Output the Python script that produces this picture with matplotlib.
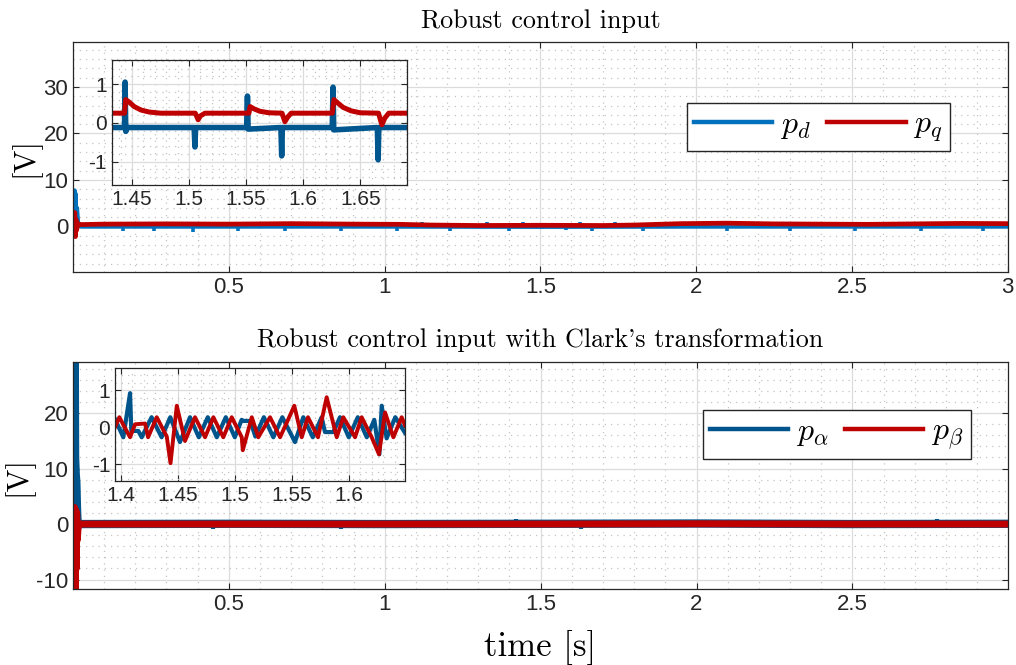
import matplotlib
matplotlib.use("Agg")
import matplotlib.pyplot as plt
from matplotlib import ticker

plt.rcParams['mathtext.fontset'] = 'cm'
plt.rcParams['axes.unicode_minus'] = False
plt.rcParams['font.family'] = ['Liberation Sans', 'DejaVu Sans']

# colores estilo MATLAB
azul_d = '#0072BD'
azul_in = '#00568F'
azul_a = '#00548C'
rojo = '#BF0000'

# ---------------- datos panel superior (p_d, p_q) ----------------
pd_t = [0.0, 0.004, 0.006, 0.008, 0.010, 0.012, 0.014, 0.018, 0.025, 0.5, 1.0, 1.5, 2.0, 2.5, 3.0]
pd_v = [0.0, 0.0, 7.8, -0.6, 7.0, -0.5, 4.0, 0.3, -0.1, -0.1, -0.1, -0.15, -0.1, -0.1, -0.1]
pd_pico_t = [0.16, 0.23, 0.26, 0.32, 0.385, 0.45, 0.53, 0.57, 0.68, 0.80, 0.86, 0.98, 1.04,
             1.12, 1.21, 1.33, 1.40, 1.444, 1.505, 1.551, 1.581, 1.626, 1.666, 1.74, 1.83,
             1.95, 2.03, 2.10, 2.20, 2.30, 2.42, 2.51, 2.60, 2.72, 2.85, 2.92]
pd_pico_v = [-1.0, 1.0, -1.0, 1.0, -1.1, 1.0, -1.0, 1.0, -1.0, 1.0, -1.0, 1.0, -1.0,
             1.0, -1.0, 1.0, -1.0, 1.05, -0.6, 0.7, -0.85, 0.9, -0.95, 1.0, -1.0,
             1.0, 1.2, -1.0, 1.0, -1.0, 1.0, -1.0, 1.0, -1.0, 1.0, -1.0]

pq_t = [0.0, 0.004, 0.006, 0.008, 0.010, 0.012, 0.016, 0.025, 0.1, 0.3, 0.5, 0.7, 0.9, 1.05,
        1.15, 1.3, 1.5, 1.7, 1.8, 1.95, 2.1, 2.25, 2.4, 2.55, 2.7, 2.85, 3.0]
pq_v = [0.0, 0.0, 3.0, -2.2, 1.5, -0.8, 0.6, 0.4, 0.5, 0.55, 0.5, 0.6, 0.5, 0.45,
        0.3, 0.2, 0.25, 0.2, 0.3, 0.6, 0.7, 0.55, 0.5, 0.45, 0.55, 0.65, 0.6]

# zoom superior
zd_t = [1.432, 1.4435, 1.4440, 1.4446, 1.4460, 1.5045, 1.5052, 1.5058, 1.5505, 1.5512, 1.5518,
        1.5805, 1.5812, 1.5818, 1.6255, 1.6262, 1.6268, 1.6650, 1.6657, 1.6663, 1.691]
zd_v = [-0.12, -0.12, 1.05, -0.22, -0.12, -0.12, -0.62, -0.12, -0.12, 0.69, -0.16,
        -0.12, -0.85, -0.12, -0.12, 0.92, -0.18, -0.12, -0.95, -0.12, -0.12]
zq_t = [1.432, 1.4435, 1.4445, 1.447, 1.452, 1.458, 1.465, 1.475, 1.5055, 1.5080, 1.5100,
        1.5140, 1.5525, 1.5535, 1.557, 1.562, 1.570, 1.5815, 1.5840, 1.5865, 1.5895, 1.6255,
        1.6270, 1.6300, 1.635, 1.642, 1.650, 1.6660, 1.6690, 1.6715, 1.6750, 1.691]
zq_v = [0.25, 0.25, 0.60, 0.55, 0.42, 0.33, 0.28, 0.25, 0.25, 0.08, 0.18, 0.25,
        0.25, 0.42, 0.36, 0.30, 0.26, 0.25, 0.03, 0.15, 0.25, 0.25,
        0.60, 0.52, 0.40, 0.31, 0.26, 0.25, -0.05, 0.12, 0.25, 0.25]

# ---------------- datos panel inferior (p_alpha, p_beta) ----------------
pa_t = [0.0, 0.002, 0.003, 0.004, 0.005, 0.006, 0.007, 0.009, 0.011, 0.013, 0.015, 0.02,
        0.5, 1.0, 1.5, 2.0, 2.5, 3.0]
pa_v = [0.0, 29.5, -11.7, 29.5, -11.7, 29.5, 12.0, 9.0, 7.5, 3.0, 0.2, 0.0,
        0.05, 0.0, 0.05, 0.1, 0.0, 0.05]
pb_t = [0.0, 0.003, 0.005, 0.007, 0.009, 0.011, 0.012, 0.014, 0.017, 0.023, 0.5, 1.0,
        1.5, 2.0, 2.5, 3.0]
pb_v = [0.0, -11.7, 3.0, -11.7, 2.5, -8.0, 2.0, -2.9, -0.5, 0.0, 0.0, 0.0,
        0.0, 0.05, 0.0, 0.0]
pab_pico_t = [0.27, 0.45, 0.62, 0.86, 1.07, 1.42, 1.63, 2.02, 2.35, 2.77]
pab_pico_v = [0.8, -0.9, 0.8, -0.8, 0.7, 0.9, -0.8, 0.8, -0.7, 0.9]

# zoom inferior
za_t = [1.3947, 1.4020, 1.4079, 1.4090, 1.4152, 1.4181, 1.4268, 1.4356, 1.4432, 1.4517,
        1.4605, 1.4682, 1.4761, 1.4840, 1.4919, 1.4998, 1.5058, 1.5073, 1.5134, 1.5178,
        1.5253, 1.5336, 1.5415, 1.5526, 1.5599, 1.5682, 1.5760, 1.5789, 1.5862, 1.5921,
        1.5998, 1.6077, 1.6156, 1.6222, 1.6266, 1.6287, 1.6330, 1.6406, 1.6491]
za_v = [0.22, -0.27, 0.92, -0.10, -0.10, -0.27, 0.27, -0.27, 0.27, -0.40,
        0.27, -0.27, 0.27, -0.27, 0.27, -0.27, 0.20, 0.17, 0.17, -0.25,
        0.27, -0.27, 0.27, -0.40, 0.27, -0.27, 0.27, -0.13, -0.13, 0.27,
        -0.27, 0.27, -0.27, 0.20, -0.73, 0.58, -0.30, 0.27, -0.15]
zb_t = [1.3947, 1.3985, 1.4079, 1.4123, 1.4211, 1.4237, 1.4313, 1.4401, 1.4434, 1.4489,
        1.4561, 1.4649, 1.4737, 1.4810, 1.4897, 1.4971, 1.5059, 1.5068, 1.5147, 1.5204,
        1.5307, 1.5395, 1.5465, 1.5520, 1.5585, 1.5640, 1.5728, 1.5804, 1.5892, 1.5950,
        1.6053, 1.6111, 1.6199, 1.6263, 1.6316, 1.6389, 1.6462, 1.6491]
zb_v = [0.0, 0.27, -0.27, 0.08, 0.10, -0.27, 0.27, -0.25, -0.97, 0.58,
        -0.37, 0.27, -0.27, 0.27, -0.27, 0.27, -0.27, -0.62, 0.27, -0.27,
        0.27, -0.27, 0.20, 0.58, -0.27, 0.27, -0.27, 0.81, -0.27, 0.27,
        -0.27, 0.27, -0.27, -0.73, 0.40, -0.27, 0.27, 0.05]


def estilo(ax, size):
    ax.set_axisbelow(True)
    ax.grid(which='major', color='#dcdcdc', lw=0.9, ls='-')
    ax.grid(which='minor', color='#c4c4c4', lw=0.9, ls=(0, (1, 4)))
    ax.tick_params(which='both', direction='in', top=True, right=True,
                   labelsize=size, colors='#262626', length=4)
    ax.tick_params(which='minor', length=0)
    for s in ax.spines.values():
        s.set_color('#262626')
        s.set_linewidth(0.9)
    ax.xaxis.set_major_formatter(ticker.FormatStrFormatter('%g'))
    ax.yaxis.set_major_formatter(ticker.FormatStrFormatter('%g'))


def leyenda(ax, anchor):
    leg = ax.legend(loc='upper left', bbox_to_anchor=anchor, ncol=2, fontsize=23,
                    handlelength=2.45, columnspacing=0.5, handletextpad=0.25,
                    borderaxespad=0, fancybox=False, framealpha=1,
                    edgecolor='#262626', borderpad=0.22)
    leg.get_frame().set_linewidth(1.0)
    for l in leg.get_lines():
        l.set_linewidth(3.2)
    return leg


fig = plt.figure(figsize=(10.16, 6.65), dpi=100)

# ---- panel superior ----
ax1 = fig.add_axes([0.0719, 0.591, 0.920, 0.346])
ax1.plot(pd_t, pd_v, color=azul_d, lw=2.6, label='$p_d$')
ax1.vlines(pd_pico_t, -0.1, pd_pico_v, color=azul_d, lw=2.6)
ax1.plot(pq_t, pq_v, color=rojo, lw=3.4, label='$p_q$')
ax1.set_xlim(0.0005, 3.0)
ax1.set_ylim(-9.8, 39.7)
ax1.set_xticks([0.5, 1, 1.5, 2, 2.5, 3])
ax1.set_yticks([0, 10, 20, 30])
ax1.xaxis.set_minor_locator(ticker.MultipleLocator(0.1))
ax1.yaxis.set_minor_locator(ticker.MultipleLocator(2))
estilo(ax1, 16)
ax1.set_ylabel('[V]', family='cmr10', fontsize=22, labelpad=2)
ax1.set_title('Robust control input', family='cmr10', fontsize=18.8, pad=10)
leyenda(ax1, (0.657, 0.735))

ins1 = fig.add_axes([0.1102, 0.7218, 0.2904, 0.188])
ins1.plot(zd_t, zd_v, color=azul_in, lw=4.0)
ins1.plot(zq_t, zq_v, color=rojo, lw=3.6)
ins1.set_xlim(1.4325, 1.691)
ins1.set_ylim(-1.6, 1.62)
ins1.set_xticks([1.45, 1.5, 1.55, 1.6, 1.65])
ins1.set_yticks([-1, 0, 1])
ins1.xaxis.set_minor_locator(ticker.MultipleLocator(0.01))
ins1.yaxis.set_minor_locator(ticker.MultipleLocator(0.2))
estilo(ins1, 15)

# ---- panel inferior ----
ax2 = fig.add_axes([0.0719, 0.1143, 0.920, 0.3413])
ax2.plot(pa_t, pa_v, color=azul_a, lw=6.0, label=r'$p_\alpha$')
ax2.vlines(pab_pico_t, 0, pab_pico_v, color=azul_a, lw=3)
ax2.plot(pb_t, pb_v, color=rojo, lw=5.0, label=r'$p_\beta$')
ax2.set_xlim(0.0005, 2.998)
ax2.set_ylim(-11.7, 29.2)
ax2.set_xticks([0.5, 1, 1.5, 2, 2.5])
ax2.set_yticks([-10, 0, 10, 20])
ax2.xaxis.set_minor_locator(ticker.MultipleLocator(0.1))
ax2.yaxis.set_minor_locator(ticker.MultipleLocator(2))
estilo(ax2, 16)
ax2.set_ylabel('[V]', family='cmr10', fontsize=22, labelpad=2)
ax2.set_xlabel('time [s]', family='cmr10', fontsize=25, labelpad=11)
ax2.set_title("Robust control input with Clark's transformation", family='cmr10',
              fontsize=18.8, pad=11)
leyenda(ax2, (0.674, 0.789))

ins2 = fig.add_axes([0.1132, 0.2767, 0.2854, 0.170])
ins2.plot(za_t, za_v, color=azul_a, lw=3.0)
ins2.plot(zb_t, zb_v, color=rojo, lw=2.8)
ins2.set_xlim(1.3947, 1.6491)
ins2.set_ylim(-1.45, 1.6)
ins2.set_xticks([1.4, 1.45, 1.5, 1.55, 1.6])
ins2.set_yticks([-1, 0, 1])
ins2.xaxis.set_minor_locator(ticker.MultipleLocator(0.01))
ins2.yaxis.set_minor_locator(ticker.MultipleLocator(0.2))
estilo(ins2, 15)

fig.savefig('out.png', dpi=100)
